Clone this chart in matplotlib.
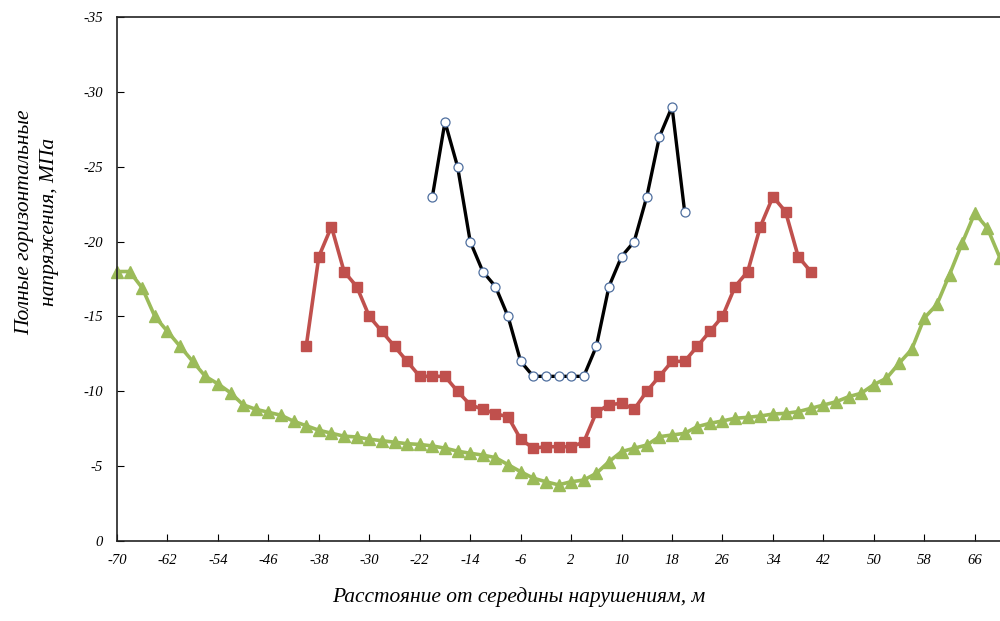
import matplotlib.pyplot as plt

# stress profiles across the disturbance, MPa (negative = compression)
x_black = list(range(-20, 21, 2))
s_black = [-23, -28, -25, -20, -18, -17, -15, -12, -11, -11, -11,
           -11, -11, -13, -17, -19, -20, -23, -27, -29, -22]

x_red = list(range(-40, 41, 2))
s_red = [-13, -19, -21, -18, -17, -15, -14, -13, -12, -11, -11,
         -11, -10, -9.1, -8.8, -8.5, -8.3, -6.8, -6.2, -6.3, -6.3,
         -6.3, -6.6, -8.6, -9.1, -9.2, -8.8, -10, -11, -12, -12,
         -13, -14, -15, -17, -18, -21, -23, -22, -19, -18]

x_green = list(range(-70, 71, 2))
s_green = [-18, -18, -16.9, -15, -14, -13, -12, -11, -10.5, -9.9,
           -9.1, -8.8, -8.6, -8.4, -8.0, -7.7, -7.4, -7.2, -7.0, -6.95,
           -6.8, -6.7, -6.6, -6.5, -6.45, -6.35, -6.2, -6.0, -5.86, -5.74,
           -5.57, -5.1, -4.63, -4.2, -3.96, -3.75, -3.96, -4.07, -4.52, -5.3,
           -5.97, -6.2, -6.41, -6.97, -7.08, -7.19, -7.64, -7.86, -8.02, -8.2,
           -8.26, -8.35, -8.48, -8.53, -8.64, -8.86, -9.08, -9.3, -9.64, -9.87,
           -10.45, -10.87, -11.87, -12.8, -14.9, -15.8, -17.8, -19.9, -21.9, -20.9,
           -18.9]

x_ticks = list(range(-70, 67, 8))
y_ticks = [0, -5, -10, -15, -20, -25, -30, -35]

serif = "Liberation Serif"

fig = plt.figure(figsize=(10, 6.21), dpi=100)
ax = fig.add_axes([0.117, 0.1288, 0.883, 0.8438])

ax.plot(x_green, s_green, color="#9BBB59", lw=2.6, marker="^", ms=8,
        mfc="#9BBB59", mec="#9BBB59", clip_on=False, zorder=2)
ax.plot(x_red, s_red, color="#C0504D", lw=2.6, marker="s", ms=7.5,
        mfc="#C0504D", mec="#C0504D", zorder=3)
ax.plot(x_black, s_black, color="black", lw=2.4, marker="o", ms=6.5,
        mfc="white", mec="#4F6F9F", mew=0.9, zorder=4)

ax.set_xlim(-70, 70)
ax.set_ylim(0, -35)
ax.set_xticks(x_ticks)
ax.set_yticks(y_ticks)
ax.set_xticklabels([str(v) for v in x_ticks])
ax.set_yticklabels([str(v) for v in y_ticks])
ax.tick_params(direction="in", length=5, width=0.8, labelsize=10.5)
ax.tick_params(axis="x", pad=9)
ax.tick_params(axis="y", pad=10)
for lab in ax.get_xticklabels() + ax.get_yticklabels():
    lab.set_fontfamily(serif)
    lab.set_fontstyle("italic")

for side in ("left", "bottom", "top"):
    ax.spines[side].set_linewidth(1.2)
    ax.spines[side].set_color("#222222")
ax.spines["right"].set_visible(False)

fig.text(0.037, 0.642, "Полные горизонтальные\nнапряжения, МПа", rotation=90,
         ha="center", va="center", fontsize=15.5, fontstyle="italic",
         family=serif, linespacing=1.45)
fig.text(0.519, 0.022, "Расстояние от середины нарушениям, м",
         ha="center", va="bottom", fontsize=15.5, fontstyle="italic", family=serif)

fig.savefig("out.png", dpi=100)
